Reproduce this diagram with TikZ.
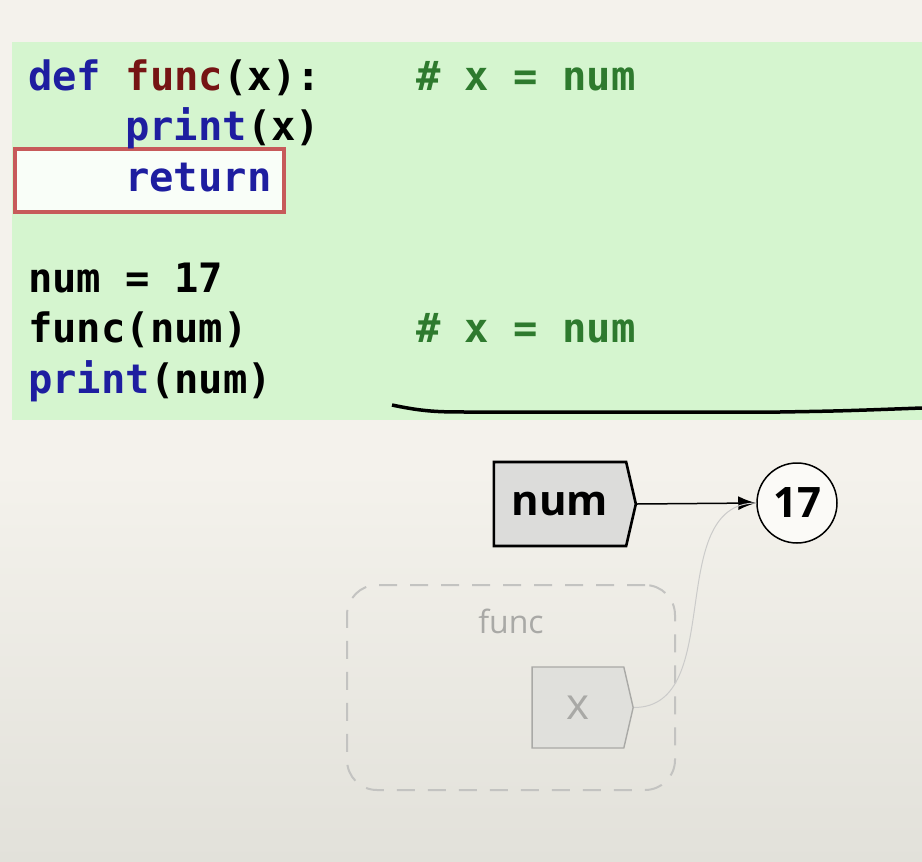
\documentclass[tikz,border=0pt]{standalone}
\usepackage{fontspec}
\setmonofont{DejaVu Sans Mono}
\newfontfamily\labelfont{Open Sans}
\usetikzlibrary{shapes.symbols,arrows.meta,positioning}
\definecolor{bgtop}{HTML}{F4F2EC}
\definecolor{bgbot}{HTML}{E2E1DA}
\definecolor{codebg}{HTML}{D5F5CF}
\definecolor{kwblue}{HTML}{1E1EA0}
\definecolor{fnred}{HTML}{761414}
\definecolor{cmtgreen}{HTML}{2E7A2E}
\definecolor{markred}{HTML}{C75A5A}
\definecolor{namefill}{HTML}{DCDCDA}
\definecolor{ghost}{HTML}{A9A9A6}
\definecolor{ghostfill}{HTML}{E0E0DC}

\begin{document}
\begin{tikzpicture}[x=1pt, y=-1pt,
  code/.style={anchor=base west, inner sep=0pt, font=\ttfamily\bfseries\fontsize{40.5}{48}\selectfont},
  comment/.style={code, text=cmtgreen},
  namebox/.style={shape=signal, signal to=east, signal pointer angle=154, draw, line width=2.6pt,
    fill=namefill, minimum width=142pt, minimum height=84pt, inner sep=0pt,
    font=\labelfont\bfseries\fontsize{42}{48}\selectfont},
  ghostbox/.style={namebox, line width=1.4pt, draw=ghost, fill=ghostfill, text=ghost,
    minimum width=101pt, minimum height=81pt, font=\labelfont\fontsize{44}{48}\selectfont},
  valuenode/.style={circle, draw, line width=1.5pt, fill=white!60!bgtop, minimum size=80pt,
    inner sep=0pt, font=\labelfont\bfseries\fontsize{42}{48}\selectfont},
  framebox/.style={draw=ghost!70, line width=2pt, dash pattern=on 18pt off 13pt,
    rounded corners=30pt, minimum width=328pt, minimum height=205pt},
  frametitle/.style={inner sep=0pt, text=ghost, font=\labelfont\fontsize{32}{36}\selectfont}]
  \useasboundingbox (0,0) rectangle (922,862);
  \fill[bgtop] (0,0) rectangle (922,862); % backdrop
  \shade[top color=bgtop, bottom color=bgbot] (0,470) rectangle (922,862);
  \fill[codebg] (12,42) rectangle (922,420); % code panel
  \draw[line width=4pt, draw=markred, fill=white!85!codebg] (15,149) rectangle (284,212); % current line
  % code lines
  \node[code] (l1) at (28,90) {\textcolor{kwblue}{def} \textcolor{fnred}{func}(x):};
  \node[code] (l2) at (125,140.5) {\textcolor{kwblue}{print}(x)};
  \node[code] (l3) at (125,191) {\textcolor{kwblue}{return}};
  \node[code] (l4) at (28,292) {num = 17};
  \node[code] (l5) at (28,342.5) {func(num)};
  \node[code] (l6) at (28,393) {\textcolor{kwblue}{print}(num)};
  \node[comment] (c1) at (416,90) {\# x = num};
  \node[comment] (c2) at (416,342.5) {\# x = num};
  \draw[line width=3.5pt] (392,405) .. controls (425,412) and (440,412) .. (470,412)
    -- (780,412) .. controls (840,411) .. (922,408); % underline by hand
  % names and values
  \node[namebox] (num) at (560,504) {num};
  \node[valuenode] (val) at (797,503) {17};
  \node[framebox] (funcframe) at (511,687.5) {};
  \node[frametitle, below=25pt of funcframe.north] (functitle) {func};
  \node[ghostbox] (x) at (578,707.5) {x};
  \draw[line width=1.5pt, -{Latex[length=18pt,width=14pt]}] (num.east) -- (val.west);
  \draw[line width=1pt, draw=ghost!60] (x.east) to[out=0, in=180] (val.west);
\end{tikzpicture}
\end{document}
